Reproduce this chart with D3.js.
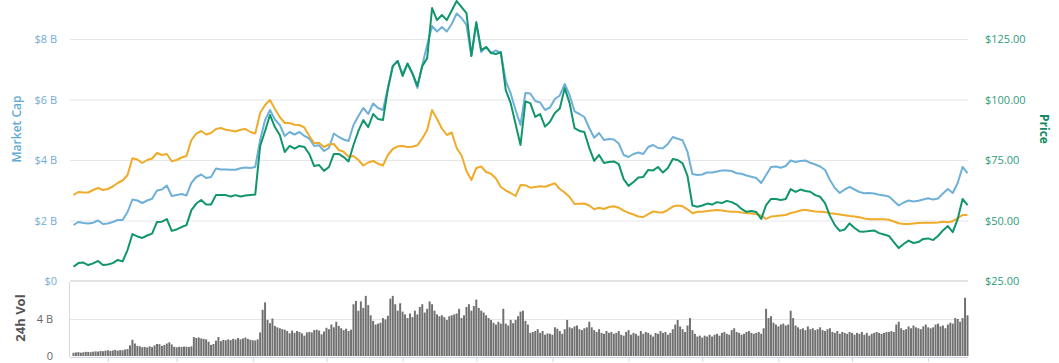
<!DOCTYPE html>
<html><head><meta charset="utf-8">
<script src="https://cdn.jsdelivr.net/npm/d3@7"></script>
<style>body{margin:0;background:#fff;} svg{display:block;font-family:"Open Sans",sans-serif;}</style>
</head><body><svg id="c" width="1059" height="363"></svg>
<script>
// ---- data (Jan 18 2019 .. Jan 17 2020) ----
const startDate = "2019-01-18";
const lineStepDays = 2;   // line series sampled every 2 days
const barStepDays = 1;    // daily volume
const marketCapB = [
1.851,1.951,1.917,1.901,1.927,2.000,1.884,1.901,1.951,2.017,
2.017,2.281,2.694,2.661,2.579,2.661,2.721,2.992,3.025,3.157,
2.810,2.843,2.876,2.827,3.240,3.438,3.521,3.405,3.438,3.719,
3.686,3.689,3.680,3.676,3.726,3.752,3.736,3.769,4.661,5.323,
5.653,5.339,5.157,4.794,4.926,4.843,4.926,4.794,4.711,4.463,
4.486,4.298,4.397,4.876,4.761,4.678,4.628,5.157,5.455,5.719,
5.521,5.868,5.719,5.653,6.381,7.108,7.273,6.843,7.174,6.843,
6.381,7.141,7.802,8.430,8.248,8.397,8.248,8.496,8.844,8.695,
8.463,7.439,8.496,7.571,7.736,7.538,7.620,7.538,6.612,6.199,
5.653,5.157,6.215,6.199,5.951,5.901,5.653,5.736,6.017,6.133,
6.513,6.149,5.604,5.521,5.422,5.058,4.737,4.893,4.661,4.695,
4.678,4.546,4.166,4.099,4.199,4.248,4.199,4.430,4.496,4.397,
4.387,4.529,4.761,4.701,4.652,4.265,3.537,3.504,3.521,3.587,
3.587,3.620,3.653,3.653,3.637,3.561,3.544,3.488,3.448,3.405,
3.240,3.504,3.769,3.785,3.746,3.802,3.984,3.934,3.967,3.984,
3.908,3.851,3.785,3.670,3.339,3.075,2.909,3.025,3.108,3.025,
2.942,2.903,2.909,2.893,2.850,2.823,2.797,2.645,2.496,2.595,
2.661,2.628,2.651,2.694,2.734,2.691,2.727,2.893,3.042,2.909,
3.240,3.769,3.570];
const priceUsd = [
30.9,32.4,32.6,31.6,32.3,33.3,31.6,31.8,32.4,33.7,
33.1,37.8,44.4,43.4,42.8,43.8,44.6,49.4,49.5,50.6,
45.7,46.3,47.3,48.1,54.3,57.0,58.5,56.6,56.6,60.5,
60.5,60.5,59.9,60.5,59.9,60.3,60.5,60.7,80.8,87.0,
93.6,88.6,85.3,78.3,80.8,79.7,80.8,80.4,77.5,72.5,
72.9,70.5,72.1,77.5,77.5,76.2,74.4,81.2,87.0,91.5,
88.6,94.0,91.9,91.5,104.3,113.8,115.9,109.7,114.9,110.9,
105.6,113.8,117.1,137.8,132.8,134.9,132.8,136.8,140.7,138.2,
135.7,118.0,132.0,120.4,121.7,119.2,118.8,119.6,103.9,98.5,
89.9,81.2,99.2,98.5,92.8,94.0,88.8,90.8,94.4,96.3,
104.7,98.5,88.2,87.0,86.6,80.0,74.6,77.1,73.8,74.2,
74.4,73.3,67.1,64.3,65.9,67.8,68.0,70.9,70.7,72.1,
69.8,71.7,75.4,75.0,73.6,68.4,56.2,55.7,56.2,57.0,
56.6,57.6,57.2,58.1,57.6,56.6,54.8,53.6,53.9,53.5,
50.6,56.4,58.9,58.9,58.5,58.9,63.0,61.8,62.8,62.2,
61.9,60.5,59.8,57.2,51.9,48.1,45.7,46.3,48.8,46.9,
45.5,45.4,45.7,45.9,44.8,44.2,43.6,41.1,38.6,40.3,
41.7,40.7,41.1,42.4,42.6,41.9,43.6,45.9,47.7,45.2,
50.6,58.9,56.4];
const priceMilliBtc = [
8.6,8.9,8.85,8.85,9.1,9.3,9.1,9.2,9.45,9.8,
10.05,10.6,12.27,12.15,11.8,12.1,12.25,12.8,12.6,12.7,
11.97,12.1,12.35,12.5,14.1,14.73,15.0,14.65,14.8,15.2,
15.3,15.13,15.05,14.95,15.13,15.2,14.9,14.75,16.8,17.6,
18.1,17.2,16.4,15.8,15.8,15.63,15.6,15.35,14.5,13.8,
13.8,13.4,13.65,13.7,13.1,12.92,12.42,12.5,12.1,11.55,
11.85,12.0,11.73,11.55,12.6,13.2,13.47,13.5,13.4,13.43,
13.57,14.25,15.1,17.1,16.2,15.25,14.6,14.85,13.3,12.55,
11.0,10.1,11.3,11.45,10.9,10.72,10.25,9.4,9.05,8.8,
8.5,9.6,9.57,9.33,9.4,9.48,9.43,9.6,9.77,9.2,
8.85,8.4,7.7,7.72,7.75,7.55,7.18,7.33,7.2,7.4,
7.48,7.33,7.03,6.82,6.65,6.45,6.4,6.68,6.95,6.87,
6.85,7.12,7.44,7.55,7.47,7.17,6.78,6.93,6.93,6.99,
7.05,7.1,7.05,6.97,6.93,6.93,6.86,6.8,6.76,6.7,
6.52,6.22,6.44,6.49,6.56,6.6,6.8,6.9,7.05,7.12,
7.03,6.95,6.93,6.89,6.77,6.72,6.65,6.58,6.5,6.45,
6.37,6.26,6.18,6.17,6.17,6.17,6.13,5.95,5.78,5.7,
5.7,5.74,5.79,5.83,5.83,5.83,5.85,5.92,5.87,5.98,
6.28,6.6,6.6];
const volumeB = [
0.35,0.38,0.42,0.36,0.40,0.45,0.44,0.41,0.47,0.50,
0.48,0.55,0.52,0.58,0.62,0.55,0.60,0.66,0.58,0.63,
0.62,0.70,0.75,1.15,1.75,1.35,1.10,1.05,0.95,0.98,
0.92,1.05,0.96,1.15,1.30,1.28,1.10,1.20,1.35,1.48,
1.25,1.00,0.95,1.00,0.98,1.02,1.00,0.97,1.05,2.05,
1.95,2.00,1.90,1.85,1.80,1.55,1.20,1.30,1.65,2.05,
1.60,1.75,1.70,1.80,1.72,1.85,1.78,1.95,1.80,1.90,
2.00,1.85,1.75,1.70,1.68,1.80,2.55,5.00,5.80,3.90,
3.55,4.05,3.25,3.10,3.00,2.90,2.85,2.70,2.45,2.75,
2.50,2.70,2.60,2.45,2.20,2.55,2.60,2.55,2.80,2.85,
2.75,2.35,2.65,3.05,2.90,3.40,3.10,3.70,3.25,3.00,
2.80,2.95,2.70,2.85,5.60,5.95,4.90,5.90,5.20,6.50,
5.50,4.40,3.80,3.40,3.50,3.60,4.10,3.95,4.35,6.20,
6.50,5.60,4.90,5.70,4.80,4.50,4.10,4.60,4.20,4.90,
4.50,5.30,5.60,4.70,5.10,5.90,5.60,4.90,4.50,4.30,
4.40,4.20,3.90,4.30,4.40,4.50,4.60,5.10,4.10,4.40,
5.30,5.60,4.90,5.40,6.10,5.20,4.90,4.70,4.40,4.10,
3.90,3.60,3.40,3.70,3.50,5.10,3.50,3.30,3.90,3.55,
3.90,4.30,4.80,4.90,3.80,3.40,2.50,2.60,2.70,2.90,
2.50,2.70,2.30,2.45,2.40,2.30,3.10,2.95,2.70,2.40,
2.90,3.90,3.10,3.00,3.20,3.30,2.90,2.80,3.00,3.10,
3.70,3.10,2.80,2.60,2.90,2.50,2.40,2.70,2.50,2.60,
2.40,2.50,2.70,2.30,2.20,2.60,2.80,2.30,2.50,2.40,
2.20,2.70,2.40,2.60,2.50,2.30,2.10,2.50,2.40,2.70,
2.50,2.60,2.30,2.50,2.90,3.40,3.90,3.20,2.90,2.60,
3.30,4.10,2.80,2.40,2.10,2.20,2.00,2.20,2.10,2.30,
2.10,2.30,2.40,2.20,2.50,2.60,2.40,2.30,2.80,3.00,
2.60,2.50,2.30,2.40,2.60,2.70,2.50,2.40,2.50,2.60,
2.40,3.00,5.10,4.10,4.30,3.60,3.40,3.20,3.40,3.50,
3.30,3.40,4.90,4.10,3.30,3.10,2.90,3.00,2.80,3.20,
2.90,3.00,2.80,2.90,3.10,2.80,2.70,2.90,3.00,2.60,
2.50,2.70,2.40,2.60,2.50,2.40,2.60,2.50,2.30,2.50,
2.40,2.60,2.30,2.50,2.20,2.40,2.50,2.60,2.50,2.40,
2.50,2.60,2.60,2.70,2.60,3.40,3.70,3.00,2.80,2.90,
3.20,3.00,3.30,3.10,3.00,2.90,3.20,3.40,3.10,3.00,
3.10,3.40,3.50,3.20,3.30,3.00,3.40,3.60,3.50,4.10,
4.00,3.70,4.10,6.30,4.40];
const capTicks = [0, 2, 4, 6, 8];
const priceTicks = [25, 50, 75, 100, 125];
const volTicks = [0, 4];

// ---- layout ----
const svg = d3.select("#c");
const t0 = d3.utcParse("%Y-%m-%d")(startDate);
const t1 = d3.utcDay.offset(t0, volumeB.length - 1);
const x = d3.scaleUtc().domain([t0, t1]).range([73.5, 967.5]);
const plotL = 70, plotR = 968;
const yCap = d3.scaleLinear().domain([0, 8]).range([281, 39]);
const yPrice = d3.scaleLinear().domain([25, 125]).range([281, 39]);
const yBtc = d3.scaleLinear().domain([0, 24.2]).range([281, 39]);
const yVol = d3.scaleLinear().domain([0, 8]).range([356, 282]);

const lineDate = i => d3.utcDay.offset(t0, i * lineStepDays);
const barDate = i => d3.utcDay.offset(t0, i * barStepDays);

// gridlines main
svg.append("g").attr("transform", `translate(${plotL},0)`)
  .call(d3.axisLeft(yCap).tickValues(capTicks.filter(d => d > 0)).tickSize(-(plotR - plotL)).tickFormat(""))
  .call(g => g.select(".domain").remove())
  .call(g => g.selectAll("line").attr("stroke", "#e6e6e6"));

// volume panel frame
svg.append("line").attr("x1", plotL).attr("x2", plotR).attr("y1", 281).attr("y2", 281)
  .attr("stroke", "#e3e3e3").attr("stroke-width", 2);
svg.append("g").attr("transform", `translate(${plotL},0)`)
  .call(d3.axisLeft(yVol).tickValues([4]).tickSize(-(plotR - plotL)).tickFormat(""))
  .call(g => g.select(".domain").remove())
  .call(g => g.selectAll("line").attr("stroke", "#e6e6e6"));
svg.append("line").attr("x1", 69.5).attr("x2", 69.5).attr("y1", 282).attr("y2", 357)
  .attr("stroke", "#d8d8d8");

// volume bars
const bw = (x(barDate(1)) - x(barDate(0))) * 0.8;
svg.append("g").selectAll("rect").data(volumeB).join("rect")
  .attr("x", (d, i) => x(barDate(i)) - bw / 2)
  .attr("width", bw)
  .attr("y", d => yVol(d))
  .attr("height", d => yVol(0) - yVol(d))
  .attr("fill", "#707070");

// bottom time axis (month ticks)
svg.append("g").attr("transform", "translate(0,357)")
  .call(d3.axisBottom(x).ticks(d3.utcMonth.every(1)).tickSize(5).tickFormat(""))
  .call(g => g.select(".domain").attr("stroke", "#ccd6eb").attr("d", `M${plotL},0.5H${plotR}`))
  .call(g => g.selectAll("line").attr("stroke", "#ccd6eb"));

// lines
const mk = (ys) => d3.line().x((d, i) => x(lineDate(i))).y(d => ys(d));
svg.append("path").datum(marketCapB).attr("d", mk(yCap))
  .attr("fill", "none").attr("stroke", "#6fb0d8").attr("stroke-width", 2).attr("stroke-linejoin", "round");
svg.append("path").datum(priceMilliBtc).attr("d", mk(yBtc))
  .attr("fill", "none").attr("stroke", "#efab2a").attr("stroke-width", 2).attr("stroke-linejoin", "round");
svg.append("path").datum(priceUsd).attr("d", mk(yPrice))
  .attr("fill", "none").attr("stroke", "#11956c").attr("stroke-width", 2).attr("stroke-linejoin", "round");

// left axis labels
svg.append("g").attr("transform", "translate(57,0)")
  .call(d3.axisLeft(yCap).tickValues(capTicks).tickSize(0).tickPadding(0)
    .tickFormat(d => d === 0 ? "$0" : `$${d} B`))
  .call(g => g.select(".domain").remove())
  .call(g => g.selectAll("text").attr("fill", "#74acd3").attr("font-size", 11).attr("font-family", "Open Sans"));

// right axis labels
svg.append("g").attr("transform", "translate(985,0)")
  .call(d3.axisRight(yPrice).tickValues(priceTicks).tickSize(0).tickPadding(0)
    .tickFormat(d3.format("$.2f")))
  .call(g => g.select(".domain").remove())
  .call(g => g.selectAll("text").attr("fill", "#2f9c78").attr("font-size", 11).attr("font-family", "Open Sans"));

// volume axis labels
svg.append("g").attr("transform", "translate(53,0)")
  .call(d3.axisLeft(yVol).tickValues(volTicks).tickSize(0).tickPadding(0)
    .tickFormat(d => d === 0 ? "0" : `${d} B`))
  .call(g => g.select(".domain").remove())
  .call(g => g.selectAll("text").attr("fill", "#666").attr("font-size", 11).attr("font-family", "Open Sans"));

// titles
svg.append("text").attr("transform", "translate(21,129) rotate(-90)")
  .attr("text-anchor", "middle").attr("fill", "#62aad6").attr("font-size", 12).attr("font-weight", 600)
  .text("Market Cap");
svg.append("text").attr("transform", "translate(1040,129) rotate(90)")
  .attr("text-anchor", "middle").attr("fill", "#118a64").attr("font-size", 12).attr("font-weight", 700)
  .text("Price");
svg.append("text").attr("transform", "translate(25,318) rotate(-90)")
  .attr("text-anchor", "middle").attr("fill", "#555").attr("font-size", 13).attr("font-weight", 700)
  .text("24h Vol");
</script></body></html>
